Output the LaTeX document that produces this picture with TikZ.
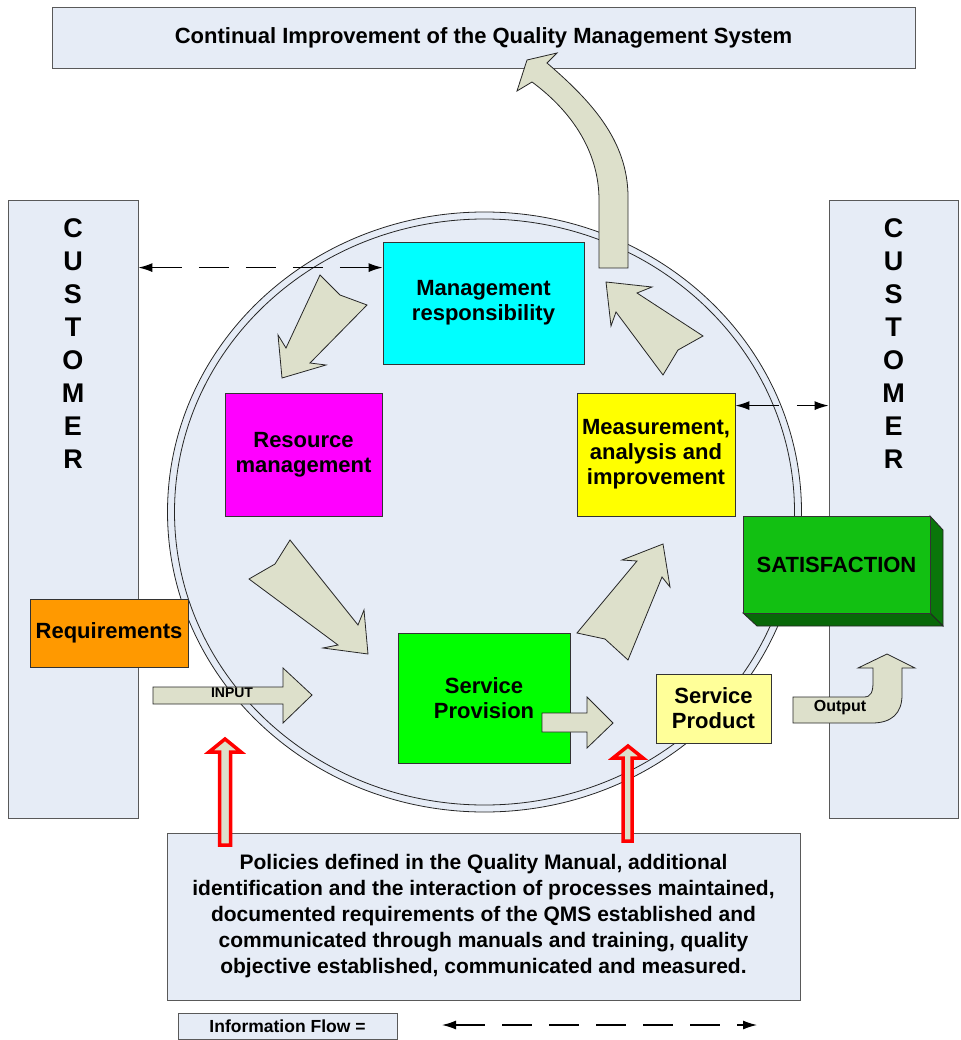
\documentclass[tikz,border=0pt]{standalone}
\usepackage{fontspec}
\setmainfont{Liberation Sans}
\usetikzlibrary{arrows.meta,calc}
\definecolor{lb}{RGB}{230,236,246}
\definecolor{af}{RGB}{221,224,203}
\definecolor{cyanbox}{RGB}{0,255,255}
\definecolor{magbox}{RGB}{255,0,255}
\definecolor{yelbox}{RGB}{255,255,0}
\definecolor{grnbox}{RGB}{0,255,0}
\definecolor{orgbox}{RGB}{255,153,0}
\definecolor{ltyel}{RGB}{255,255,153}
\definecolor{satfront}{RGB}{18,192,18}
\definecolor{satside}{RGB}{10,118,10}
\definecolor{satbot}{RGB}{8,104,8}
\definecolor{redline}{RGB}{255,0,0}
\begin{document}
\begin{tikzpicture}[x=1pt,y=-1pt,
  box/.style={draw=black!80, line width=0.8pt, inner sep=0pt, align=center,
    font=\bfseries\fontsize{22}{25}\selectfont},
  panel/.style={draw=black!65, line width=0.8pt, fill=lb, inner sep=0pt, align=center},
  blk/.style={draw=black!85, line width=0.8pt, fill=af, line join=miter},
  redarrow/.style={draw=redline, line width=3.5pt, fill=af, line join=miter},
  info/.style={line width=1.3pt, {Latex[length=14pt,width=9pt]}-{Latex[length=14pt,width=9pt]}},
  custtext/.style={align=center, inner sep=0pt, font=\bfseries\fontsize{27}{33}\selectfont}
]
\useasboundingbox (0,0) rectangle (960,1040);

% big circle
\fill[lb] (484.5,512) ellipse [x radius=317pt, y radius=300pt];
\draw[line width=0.8pt, black!85] (484.5,512) ellipse [x radius=317pt, y radius=300pt];
\draw[line width=0.8pt, black!85] (484.5,512) ellipse [x radius=310pt, y radius=293pt];

% panels
\node[panel, minimum width=863pt, minimum height=61pt, font=\bfseries\fontsize{22}{25}\selectfont] (title) at (483.5,37.5) {Continual Improvement of the Quality Management System};
\node[panel, minimum width=130pt, minimum height=618pt] (custL) at (73,509) {};
\node[panel, minimum width=129pt, minimum height=618pt] (custR) at (893.5,509) {};
\node[custtext] (custLt) at (73,343.5) {C\\U\\S\\T\\O\\M\\E\\R};
\node[custtext] (custRt) at (893.5,343.5) {C\\U\\S\\T\\O\\M\\E\\R};
\node[panel, minimum width=633pt, minimum height=167pt, font=\bfseries\fontsize{21}{26}\selectfont] (pol) at (483.5,916.5)
  {Policies defined in the Quality Manual, additional\\identification and the interaction of processes maintained,\\documented requirements of the QMS established and\\communicated through manuals and training, quality\\objective established, communicated and measured.};
\node[panel, minimum width=219pt, minimum height=26pt, font=\bfseries\fontsize{17.5}{20}\selectfont] (leg) at (287.5,1026) {Information Flow =};

% process boxes
\node[box, fill=cyanbox, minimum width=201pt, minimum height=122pt] (mgmt) at (483.5,303) {Management\\responsibility};
\node[box, fill=magbox, minimum width=157pt, minimum height=123pt] (res) at (303.5,454.5) {Resource\\management};
\node[box, fill=yelbox, minimum width=158pt, minimum height=123pt] (meas) at (656,454.5) {Measurement,\\analysis and\\improvement};
\node[box, fill=grnbox, minimum width=172pt, minimum height=130pt] (serv) at (484,698) {Service\\Provision};
\node[box, fill=ltyel, minimum width=115pt, minimum height=69pt] (prod) at (713.5,708.5) {Service\\Product};
\node[box, fill=orgbox, minimum width=158pt, minimum height=68pt] (req) at (109,633) {Requirements};

% block arrows inside circle
\draw[blk] (320,275) -- (340,295) -- (367,305) -- (310,363) -- (326,365) -- (282,378) -- (278,335) -- (286,348) -- cycle;
\draw[blk] (606,282) -- (652,287) -- (637,293) -- (703,336) -- (678,350) -- (663,375) -- (616,312) -- (611,326) -- cycle;
\draw[blk] (290,540) -- (358,625) -- (364,610) -- (368,654) -- (323,648) -- (338,645) -- (249,579) -- (275,564) -- cycle;
\draw[blk] (577,633) -- (637,561) -- (622,560) -- (663,544) -- (670,587) -- (662,577) -- (628,660) -- (605,639) -- cycle;

% curved improvement arrow
\draw[blk] (599,268) -- (599,200) .. controls (599,150) and (570,110) .. (532,82) -- (517,91) -- (527,60) -- (557,53) -- (547,63) .. controls (590,100) and (628,140) .. (628,197) -- (628,268) -- cycle;

% input arrow
\draw[blk] (153,687) -- (283,687) -- (283,668) -- (312,695) -- (283,723) -- (283,704) -- (153,704) -- cycle;
\node[font=\bfseries\fontsize{14}{16}\selectfont, inner sep=0pt] (inp) at (232,693) {INPUT};

% service arrow
\draw[blk] (542,713) -- (587,713) -- (587,697) -- (613,723) -- (587,748) -- (587,732) -- (542,732) -- cycle;

% output arrow
\draw[blk] (793,697) -- (864,697) .. controls (871,697) and (873,692) .. (873,682) -- (873,668) -- (858,668) -- (887,654) -- (915,668) -- (902,668) -- (902,695) .. controls (902,713) and (892,723) .. (872,723) -- (793,723) -- cycle;
\node[font=\bfseries\fontsize{16}{18}\selectfont, inner sep=0pt] (outp) at (840,708) {Output};

% information flow arrows
\coordinate (mTop) at ($(mgmt.north west)+(0,26)$);
\draw[info, dash pattern=on 30pt off 17pt] (custL.east |- mTop) -- (mTop);
\coordinate (meTop) at ($(meas.north east)+(0,13)$);
\draw[info, dash pattern=on 30pt off 18pt] (meTop) -- (custR.west |- meTop);
\coordinate (legA) at (442,1025);
\coordinate (legB) at (757,1025);
\draw[info, dash pattern=on 30pt off 17pt] (legA) -- (legB);

% red arrows
\draw[redarrow] (219.5,845) -- (219.5,752) -- (209,752) -- (225,739) -- (241,752) -- (230.5,752) -- (230.5,845) -- cycle;
\draw[redarrow] (623,841) -- (623,758) -- (613,758) -- (628,746) -- (643,758) -- (632,758) -- (632,841) -- cycle;

% satisfaction 3D box
\draw[line width=0.8pt, black!85, fill=satside] (930,516) -- (943,530) -- (943,626) -- (930,613) -- cycle;
\draw[line width=0.8pt, black!85, fill=satbot] (743,613) -- (930,613) -- (943,626) -- (757,626) -- cycle;
\node[box, fill=satfront, minimum width=187pt, minimum height=97pt] (sat) at (836.5,564.5) {SATISFACTION};
\end{tikzpicture}
\end{document}
